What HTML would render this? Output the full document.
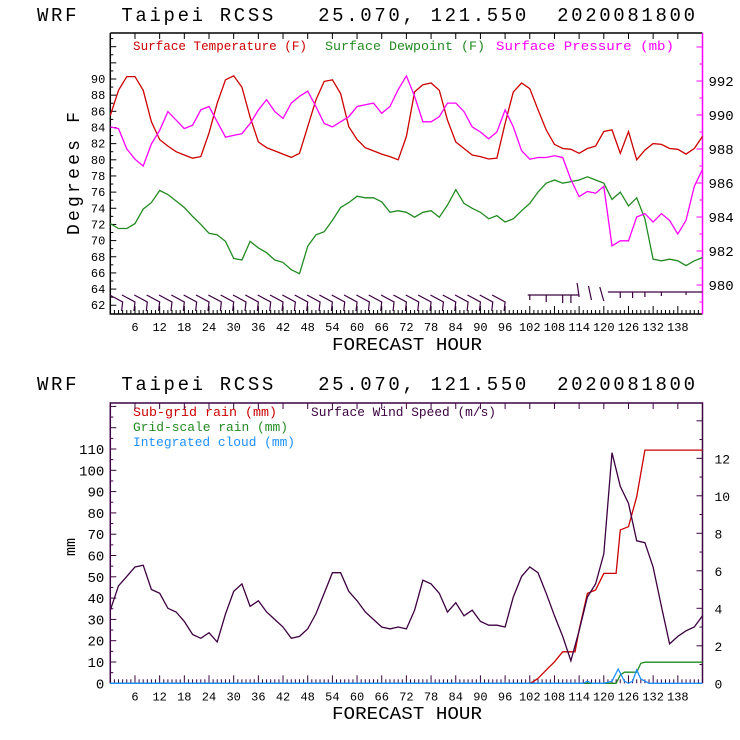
<!DOCTYPE html>
<html><head><meta charset="utf-8"><style>
html,body{margin:0;padding:0;background:#fff;}
svg{display:block;}
text{font-family:"Liberation Mono",monospace;}
.ttl{white-space:pre;}
</style></head><body>
<svg id="chart" width="740" height="740" viewBox="0 0 740 740" xmlns="http://www.w3.org/2000/svg">
<rect width="740" height="740" fill="#fff"/>
<text class="ttl" xml:space="preserve" x="37" y="21" font-size="19" textLength="658" lengthAdjust="spacing" fill="#000">WRF   Taipei RCSS   25.070, 121.550  2020081800</text>
<text class="ttl" xml:space="preserve" x="37" y="390" font-size="19" textLength="658" lengthAdjust="spacing" fill="#000">WRF   Taipei RCSS   25.070, 121.550  2020081800</text>
<text x="133" y="50" font-size="13" font-family="Liberation Serif, serif" textLength="174" lengthAdjust="spacingAndGlyphs" fill="#cc0000">Surface Temperature (F)</text>
<text x="325" y="50" font-size="13" font-family="Liberation Serif, serif" textLength="160" lengthAdjust="spacingAndGlyphs" fill="#228b22">Surface Dewpoint (F)</text>
<text x="496" y="50" font-size="13" font-family="Liberation Serif, serif" textLength="178" lengthAdjust="spacingAndGlyphs" fill="#ff00ff">Surface Pressure (mb)</text>
<text x="133" y="416" font-size="13" font-family="Liberation Serif, serif" textLength="144" lengthAdjust="spacingAndGlyphs" fill="#cc0000">Sub-grid rain (mm)</text>
<text x="311" y="416" font-size="13" font-family="Liberation Serif, serif" textLength="185" lengthAdjust="spacingAndGlyphs" fill="#3c0040">Surface Wind Speed (m/s)</text>
<text x="133" y="431" font-size="13" font-family="Liberation Serif, serif" textLength="155" lengthAdjust="spacingAndGlyphs" fill="#228b22">Grid-scale rain (mm)</text>
<text x="133" y="446" font-size="13" font-family="Liberation Serif, serif" textLength="162" lengthAdjust="spacingAndGlyphs" fill="#1e90ff">Integrated cloud (mm)</text>
<text x="332" y="350" font-size="18" textLength="150" lengthAdjust="spacingAndGlyphs" fill="#000">FORECAST HOUR</text>
<text x="332" y="719" font-size="18" textLength="150" lengthAdjust="spacingAndGlyphs" fill="#000">FORECAST HOUR</text>
<text transform="translate(79,235) rotate(-90)" font-size="18" textLength="123" lengthAdjust="spacing" fill="#000">Degrees F</text>
<text transform="translate(75,556) rotate(-90)" font-size="15" fill="#000">mm</text>
<g id="g"></g>
</svg>
<script>
const hours=[0,2,4,6,8,10,12,14,16,18,20,22,24,26,28,30,32,34,36,38,40,42,44,46,48,50,52,54,56,58,60,62,64,66,68,70,72,74,76,78,80,82,84,86,88,90,92,94,96,98,100,102,104,106,108,110,112,114,116,118,120,122,124,126,128,130,132,134,136,138,140,142,144];
const temperature=[85.5,88.6,90.3,90.3,88.6,84.7,82.5,81.7,81.0,80.6,80.2,80.4,83.3,87.0,89.9,90.4,89.0,85.3,82.2,81.5,81.1,80.7,80.3,80.8,84.1,87.4,89.7,89.9,88.2,84.1,82.5,81.5,81.1,80.7,80.4,80.0,82.9,88.4,89.3,89.5,88.6,84.9,82.2,81.4,80.6,80.4,80.1,80.2,84.5,88.4,89.5,88.8,86.2,83.7,81.9,81.4,81.3,80.8,81.4,81.7,83.5,83.7,80.8,83.5,80.0,81.2,82.0,81.9,81.4,81.3,80.7,81.4,82.9];
const dewpoint=[72.1,71.5,71.5,72.1,73.9,74.7,76.2,75.7,74.9,74.1,73.0,72.0,70.9,70.7,69.9,67.8,67.6,69.9,69.1,68.5,67.6,67.3,66.4,65.9,69.3,70.7,71.1,72.5,74.1,74.7,75.5,75.3,75.3,74.8,73.5,73.7,73.5,72.9,73.5,73.7,72.9,74.4,76.3,74.6,74.0,73.5,72.7,73.1,72.3,72.7,73.7,74.6,76.0,77.1,77.5,77.1,77.3,77.5,77.9,77.5,77.1,75.1,76.0,74.3,75.3,72.7,67.7,67.5,67.7,67.5,66.9,67.5,67.9];
const pressure=[989.3,989.2,988.0,987.4,987.0,988.3,989.1,990.2,989.7,989.2,989.4,990.3,990.5,989.6,988.7,988.8,988.9,989.5,990.3,990.9,990.2,989.8,990.7,991.1,991.4,990.5,989.5,989.3,989.6,989.9,990.5,990.6,990.7,990.1,990.5,991.5,992.3,991.1,989.6,989.6,989.9,990.7,990.7,990.2,989.3,989.0,988.6,989.0,990.3,989.3,987.9,987.4,987.5,987.5,987.6,987.5,986.2,985.2,985.5,985.4,985.8,982.3,982.6,982.6,984.0,984.2,983.7,984.2,983.8,983.0,983.8,985.8,986.8];
const windSpeed=[3.9,5.2,5.7,6.2,6.3,5.0,4.8,4.0,3.8,3.3,2.6,2.4,2.7,2.2,3.7,4.9,5.3,4.1,4.4,3.8,3.4,3.0,2.4,2.5,2.9,3.7,4.8,5.9,5.9,4.9,4.4,3.8,3.4,3.0,2.9,3.0,2.9,3.9,5.5,5.3,4.8,3.8,4.3,3.6,3.9,3.3,3.1,3.1,3.0,4.6,5.7,6.2,5.9,4.8,3.6,2.5,1.2,2.8,4.6,5.3,6.9,12.3,10.5,9.6,7.6,7.5,6.2,4.1,2.1,2.5,2.8,3.0,3.6];
const subgridHours=[0,102,103,104,106,108,110,113,114,116,118,120,123,124,126,128,130,144];
const subgridRain=[0,0,1,2.3,6.2,10.1,14.8,14.8,25,42.2,43.8,51.6,51.6,72,73.5,87.6,109.5,109.5];
const gridHours=[0,123,124,125,128,129,130,144];
const gridRain=[0,0,3.9,5.2,5.2,9.4,9.9,9.9];
const cloudHours=[0,115,116,117,120,122,123.5,125,126,127,128,129,131,144];
const cloudMm=[0,0,1,0,0,1,6.7,1,0,1,6.3,2,0,0];
const barbHours=[3,6,9,12,15,18,21,24,27,30,33,36,39,42,45,48,51,54,57,60,63,66,69,72,75,78,81,84,87,90,93,96];
const xTickLabels=[6,12,18,24,30,36,42,48,54,60,66,72,78,84,90,96,102,108,114,120,126,132,138];
const tempTickLabels=[62,64,66,68,70,72,74,76,78,80,82,84,86,88,90];
const presTickLabels=[980,982,984,986,988,990,992];
const mmTickLabels=[0,10,20,30,40,50,60,70,80,90,100,110];
const windTickLabels=[0,2,4,6,8,10,12];

const NS='http://www.w3.org/2000/svg';
const G=document.getElementById('g');
function mk(tag,attrs,parent){const e=document.createElementNS(NS,tag);for(const k in attrs)e.setAttribute(k,attrs[k]);(parent||G).appendChild(e);return e;}
const L=110.3,R=702.5,TT=33,TB=314,BT=403,BB=683.3;
function xH(h){return L+(R-L)*h/144;}
function yT(v){return 79+(90-v)*8.08;}
function yP(p){return 285-(p-980)*17;}
function yMM(m){return BB-2.13*m;}
function yW(w){return BB-18.75*w;}
function poly(hs,vs,fy,color,name){
  const pts=hs.map((h,i)=>xH(h).toFixed(1)+','+fy(vs[i]).toFixed(1)).join(' ');
  const p=mk('polyline',{points:pts,fill:'none',stroke:color,'stroke-width':1.3});
  
  
}
function lbl(x,y,t,anchor,size,color,name){const e=mk('text',{x:x,y:y,'font-size':size,'text-anchor':anchor,fill:color});e.textContent=t;return e;}

const f1=mk('path',{d:`M${L},${TT}H${R}M${L},${TT}V${TB}H${R}`,stroke:'#000','stroke-width':1.5,fill:'none'});


const r1=mk('line',{x1:R,y1:TT,x2:R,y2:TB,stroke:'#ff00ff','stroke-width':1.5});


const f2=mk('path',{d:`M${L},${BB}V${BT}H${R}V${BB}`,stroke:'#3c0040','stroke-width':1.5,fill:'none'});



[[TT,TB,'#000'],[BT,BB,'#3c0040']].forEach(([top,bot,c],pi)=>{
  for(let h=1;h<144;h++){
    const x=xH(h),maj=h%6===0;
    const t=mk('line',{x1:x,y1:bot,x2:x,y2:bot-(maj?8:4),stroke:c,'stroke-width':1});
    
    
    if(maj){const t2=mk('line',{x1:x,y1:top,x2:x,y2:top+6,stroke:c,'stroke-width':1});
      
      }
  }
  xTickLabels.forEach(h=>lbl(xH(h),bot+17,String(h),'middle',12,'#000',pi?'bottom-x-tick-label':'top-x-tick-label'));
});
for(let v=62;v<=94;v+=2){const y=yT(v);const t=mk('line',{x1:L,y1:y,x2:L+6,y2:y,stroke:'#000'});}
for(let v=63;v<=95;v+=2){const y=yT(v);const t=mk('line',{x1:L,y1:y,x2:L+3,y2:y,stroke:'#000'});}
tempTickLabels.forEach(v=>lbl(L-5,yT(v)+4,String(v),'end',12,'#000','temp-tick-label'));
for(let p=979;p<=994;p++){const y=yP(p);const t=mk('line',{x1:R,y1:y,x2:R-(p%2===0?6:3),y2:y,stroke:'#ff00ff'});}
presTickLabels.forEach(p=>lbl(R+6,yP(p)+5,String(p),'start',14,'#000','pressure-tick-label'));
for(let m=0;m<=130;m+=5){const y=yMM(m);const t=mk('line',{x1:L,y1:y,x2:L+(m%10===0?6:3),y2:y,stroke:'#3c0040'});}
mmTickLabels.forEach(m=>lbl(L-6,yMM(m)+5,String(m),'end',14,'#000','mm-tick-label'));
for(let w=0;w<=14;w++){const y=yW(w);const t=mk('line',{x1:R,y1:y,x2:R-(w%2===0?6:3),y2:y,stroke:'#3c0040'});}
windTickLabels.forEach(w=>lbl(R+12,yW(w)+5,String(w),'start',13,'#000','wind-tick-label'));

barbHours.forEach(h=>{const x=xH(h);
  const b=mk('path',{d:`M${x-13},${295}L${x},${302}L${x-1},${311}`,stroke:'#3c0040','stroke-width':1.2,fill:'none'});
  
  });
const bl=mk('path',{d:`M${xH(101.5)},295H${xH(114)}M${xH(110)},295v8M${xH(112)},295v8M${xH(106)},295v7M${xH(102)},295v5M${xH(114)},297l-2,-14M${xH(117)},300l-3,-14M${xH(120)},301l-4,-14M${xH(121)},292h${xH(144)-xH(121)}M${xH(124)},292v6M${xH(127)},292v6M${xH(130)},292v5M${xH(134)},292v4M${xH(140)},292v3`,stroke:'#3c0040','stroke-width':1.2,fill:'none'});



poly(hours,temperature,yT,'#cc0000','surface-temperature-line');
poly(hours,dewpoint,yT,'#228b22','surface-dewpoint-line');
poly(hours,pressure,yP,'#ff00ff','surface-pressure-line');
poly(subgridHours,subgridRain,yMM,'#cc0000','sub-grid-rain-line');
poly(gridHours,gridRain,yMM,'#228b22','grid-scale-rain-line');
poly(hours,windSpeed,yW,'#3c0040','surface-wind-speed-line');
poly(cloudHours,cloudMm,yMM,'#1e90ff','integrated-cloud-line');
</script>
</body></html>
